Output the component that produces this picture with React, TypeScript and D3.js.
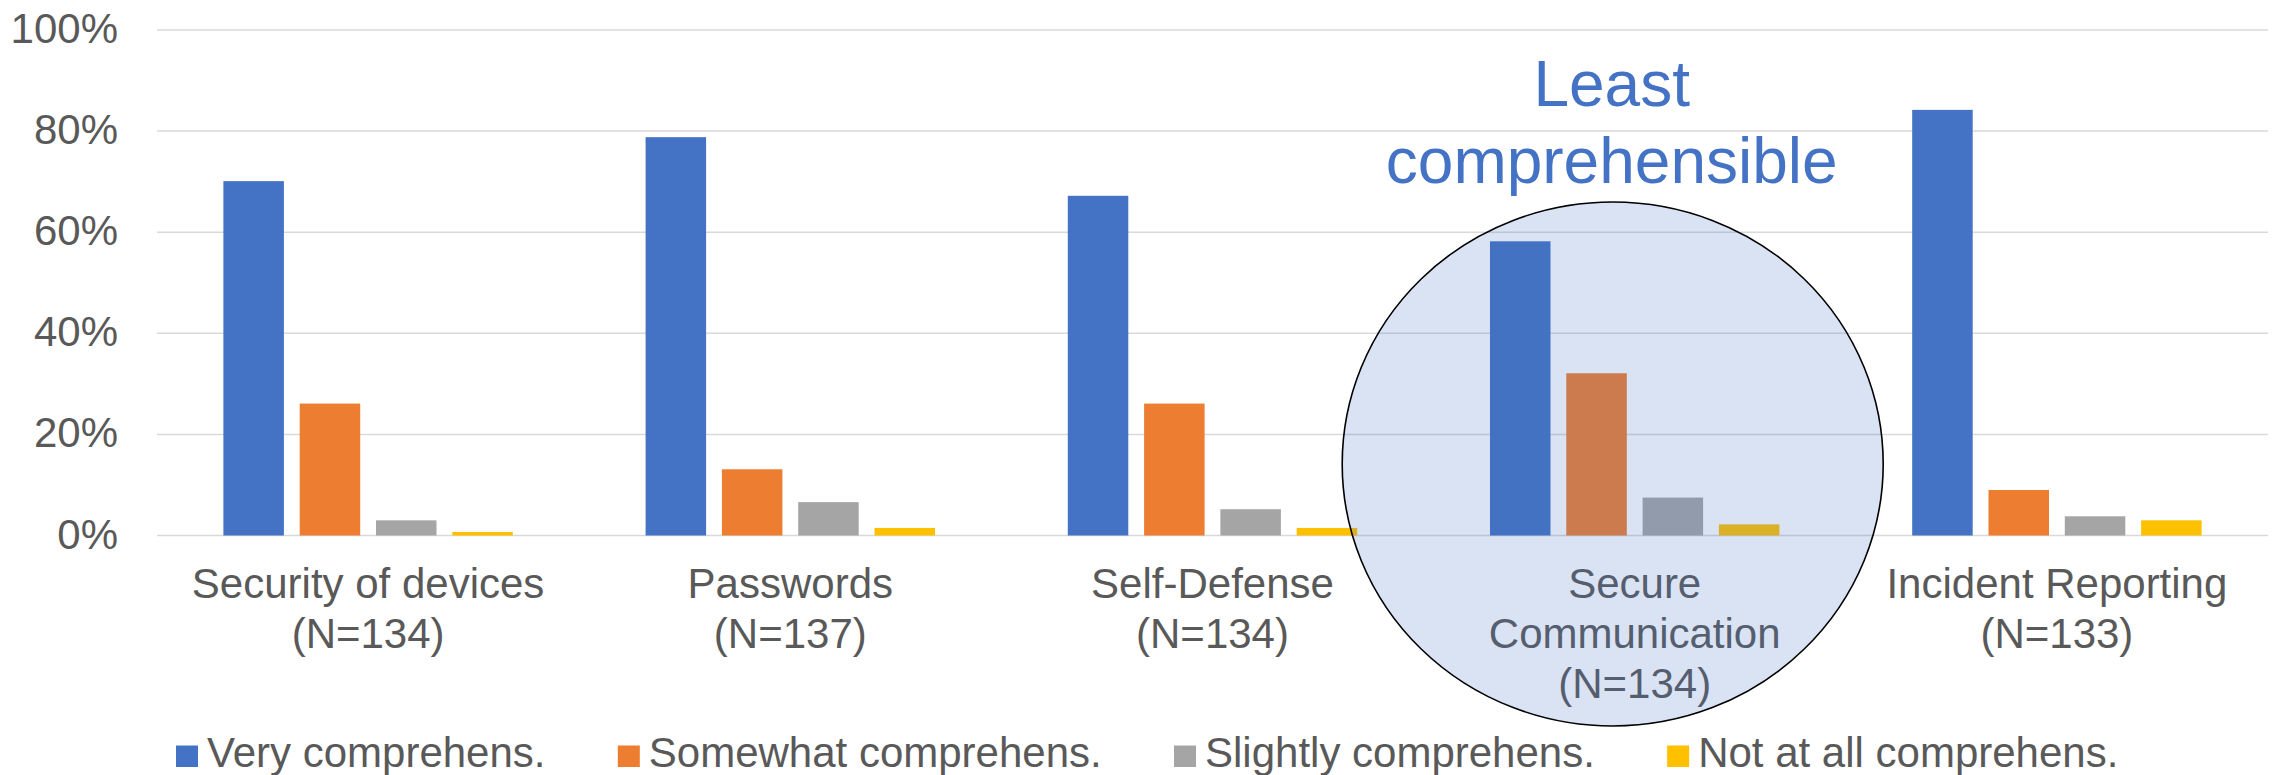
import React from "react";
import * as d3 from "d3";

const categories = ["Security of devices", "Passwords", "Self-Defense", "Secure Communication", "Incident Reporting"];
const sampleSizes = [134, 137, 134, 134, 133];
const seriesNames = ["Very comprehens.", "Somewhat comprehens.", "Slightly comprehens.", "Not at all comprehens."];
const veryValues = [70.1, 78.8, 67.2, 58.2, 84.2];
const somewhatValues = [26.1, 13.1, 26.1, 32.1, 9.0];
const slightlyValues = [3.0, 6.6, 5.2, 7.5, 3.8];
const notAtAllValues = [0.7, 1.5, 1.5, 2.2, 3.0];
const yTicks = [0, 20, 40, 60, 80, 100];
const seriesColors = ["#4472C4", "#ED7D31", "#A5A5A5", "#FFC000"];
const highlightIndex = 3;
const annotationLines = ["Least", "comprehensible"];

const W = 2277;
const H = 775;
const FONT = "'Liberation Sans', Arial, sans-serif";
const TEXT = "#595959";

let ctx: CanvasRenderingContext2D | null = null;
function measure(text: string, size: number): number {
  if (!ctx && typeof document !== "undefined") {
    ctx = document.createElement("canvas").getContext("2d");
  }
  if (!ctx) return text.length * size * 0.5;
  ctx.font = `${size}px 'Liberation Sans', Arial, sans-serif`;
  return ctx.measureText(text).width;
}

function wrap(text: string, size: number, maxW: number): string[] {
  const words = text.split(" ");
  const lines: string[] = [];
  let cur = "";
  for (const w of words) {
    const t = cur ? cur + " " + w : w;
    if (measure(t, size) > maxW && cur) {
      lines.push(cur);
      cur = w;
    } else cur = t;
  }
  if (cur) lines.push(cur);
  return lines;
}

export default function App() {
  const allSeries = [veryValues, somewhatValues, slightlyValues, notAtAllValues];
  const plotLeft = 157;
  const plotRight = 2268;
  const y0 = 535.5;
  const y1 = 30;

  const x = d3.scaleBand<string>().domain(categories).range([plotLeft, plotRight]).paddingInner(0).paddingOuter(0);
  const xs = d3
    .scaleBand<string>()
    .domain(seriesNames)
    .range([0, x.bandwidth()])
    .paddingInner(0.207)
    .paddingOuter(0.87);
  const y = d3.scaleLinear().domain([0, 100]).range([y0, y1]);

  const labelSize = 42;
  const lineH = 50;

  // legend layout
  const legendY = 767;
  let lx = 176;
  const legendItems = seriesNames.map((name, i) => {
    const item = { name, color: seriesColors[i], x: lx };
    lx += 31 + measure(name, labelSize) + 72.3;
    return item;
  });

  const hb = x(categories[highlightIndex])! + x.bandwidth() / 2;

  return (
    <div>
      <style>{`body{margin:0;}`}</style>
      <svg width={W} height={H} style={{ display: "block", background: "#fff" }} fontFamily={FONT}>
        {yTicks.map((t) => (
          <g key={t}>
            <line x1={plotLeft} x2={plotRight} y1={y(t)} y2={y(t)} stroke="#D9D9D9" strokeWidth={1.5} />
            <text x={118} y={y(t) + 13} textAnchor="end" fontSize={labelSize} fill={TEXT}>
              {t}%
            </text>
          </g>
        ))}

        {categories.map((c, ci) => (
          <g key={c} transform={`translate(${x(c)},0)`}>
            {allSeries.map((vals, si) => (
              <rect
                key={si}
                x={xs(seriesNames[si])}
                width={xs.bandwidth()}
                y={y(vals[ci])}
                height={y(0) - y(vals[ci])}
                fill={seriesColors[si]}
              />
            ))}
          </g>
        ))}

        {categories.map((c, ci) => {
          const lines = [...wrap(c, labelSize, x.bandwidth()), `(N=${sampleSizes[ci]})`];
          const cx = x(c)! + x.bandwidth() / 2;
          return (
            <text key={c} textAnchor="middle" fontSize={labelSize} fill={TEXT}>
              {lines.map((l, li) => (
                <tspan key={li} x={cx} y={598 + li * lineH}>
                  {l}
                </tspan>
              ))}
            </text>
          );
        })}

        {legendItems.map((it) => (
          <g key={it.name}>
            <rect x={it.x} y={legendY - 21.5} width={22} height={21.5} fill={it.color} />
            <text x={it.x + 31} y={legendY} fontSize={labelSize} fill={TEXT}>
              {it.name}
            </text>
          </g>
        ))}

        <text textAnchor="middle" fontSize={64} fill="#4472C4">
          {annotationLines.map((l, i) => (
            <tspan key={i} x={hb - 23} y={105.7 + i * 77}>
              {l}
            </tspan>
          ))}
        </text>

        <ellipse
          cx={hb - 22}
          cy={464}
          rx={270.5}
          ry={262}
          fill="#4472C4"
          fillOpacity={0.2}
          stroke="#000"
          strokeWidth={1.6}
        />
      </svg>
    </div>
  );
}
